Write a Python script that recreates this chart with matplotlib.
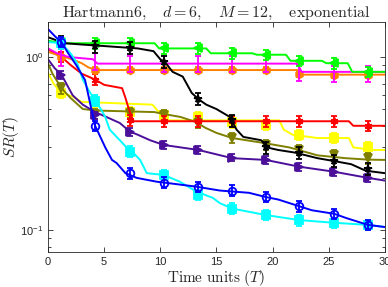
import numpy as np
import matplotlib
matplotlib.use("Agg")
import matplotlib.pyplot as plt
from matplotlib.ticker import LogLocator, NullFormatter

plt.rcParams['mathtext.fontset'] = 'cm'
plt.rcParams['font.family'] = ['Liberation Sans', 'DejaVu Sans']

# marker times
marker_t = [1.2, 4.2, 7.3, 10.3, 13.4, 16.4, 19.4, 22.4, 25.5, 28.5]

# ---- series: line (t, v), marker values, relative error ----
green_t = [0, 1.5, 9.5, 9.9, 14.1, 14.5, 18.2, 18.6, 21.2, 21.6, 24.4, 24.8, 26.7, 27.1, 30]
green_v = [1.24, 1.2, 1.2, 1.12, 1.12, 1.05, 1.05, 1.03, 1.03, 0.95, 0.95, 0.92, 0.92, 0.82, 0.82]
green_m = [1.22, 1.2, 1.2, 1.12, 1.12, 1.05, 1.03, 0.95, 0.92, 0.82]
green_e = [0.07] * 10

black_t = [0, 1.5, 3, 5.5, 8, 9.4, 10.0, 10.5, 11.1, 12, 12.8, 13.4, 14.1, 15, 16.2, 16.8,
           17.4, 19.0, 19.5, 20.5, 22, 24, 25.5, 27, 28.3, 30]
black_v = [1.3, 1.2, 1.18, 1.15, 1.12, 1.08, 0.97, 0.92, 0.82, 0.77, 0.62, 0.57, 0.53, 0.5,
           0.45, 0.38, 0.345, 0.33, 0.30, 0.29, 0.28, 0.26, 0.25, 0.24, 0.22, 0.213]
black_m = [1.22, 1.15, 1.13, 0.94, 0.57, 0.43, 0.30, 0.28, 0.25, 0.225]
black_e = [0.08] * 10

magenta_t = [0, 0.8, 1.8, 4.0, 4.4, 22.2, 22.6, 30]
magenta_v = [1.12, 1.05, 1.0, 0.97, 0.915, 0.915, 0.82, 0.82]
magenta_m = [1.0, 0.95, 0.915, 0.915, 0.915, 0.915, 0.915, 0.82, 0.8, 0.8]
magenta_e = [0.11] * 10

orange_t = [0, 0.8, 1.5, 2.3, 3.0, 3.6, 4.3, 22.2, 22.6, 30]
orange_v = [1.07, 1.03, 1.0, 0.96, 0.92, 0.87, 0.84, 0.84, 0.79, 0.79]
orange_m = [1.0, 0.84, 0.84, 0.84, 0.84, 0.84, 0.84, 0.80, 0.79, 0.79]
orange_e = [0.04] * 10

red_t = [0, 0.6, 1.2, 2, 3, 4.2, 5.0, 6.6, 6.9, 7.2, 7.6, 26.8, 27.2, 30]
red_v = [1.11, 1.05, 1.0, 0.9, 0.8, 0.74, 0.69, 0.66, 0.58, 0.5, 0.425, 0.425, 0.40, 0.40]
red_m = [1.0, 0.74, 0.43, 0.425, 0.425, 0.425, 0.425, 0.425, 0.425, 0.40]
red_e = [0.07] * 10

yellow_t = [0, 0.5, 1.2, 2.2, 3.0, 9.3, 10.0, 10.8, 20.6, 21.0, 21.8, 24, 26.8, 27.2, 29, 30]
yellow_v = [0.81, 0.7, 0.62, 0.59, 0.55, 0.53, 0.47, 0.43, 0.43, 0.38, 0.355, 0.34, 0.34,
            0.30, 0.29, 0.29]
yellow_m = [0.62, 0.55, 0.48, 0.46, 0.45, 0.42, 0.405, 0.355, 0.34, 0.30]
yellow_e = [0.07] * 10

olive_t = [0, 0.4, 1.2, 2.0, 3.1, 4.3, 9.5, 10.3, 11.8, 13.2, 14.0, 15.0, 16.4,
           19.0, 21.5, 24, 26.5, 28.5, 30]
olive_v = [0.92, 0.8, 0.66, 0.58, 0.5, 0.49, 0.48, 0.468, 0.45, 0.42, 0.39, 0.364,
           0.34, 0.32, 0.30, 0.27, 0.26, 0.255, 0.254]
olive_m = [0.66, 0.47, 0.475, 0.46, 0.415, 0.34, 0.31, 0.29, 0.27, 0.26]
olive_e = [0.07] * 10

purple_t = [0, 0.6, 1.2, 2.2, 3.1, 4.2, 5.2, 6.4, 7.3, 8.0, 9.1, 10.3, 13.4, 16.4,
            19.4, 22.4, 25.5, 28.5, 30]
purple_v = [0.97, 0.86, 0.79, 0.6, 0.53, 0.48, 0.45, 0.415, 0.37, 0.355, 0.33, 0.31,
            0.29, 0.26, 0.254, 0.232, 0.217, 0.2, 0.193]
purple_m = [0.79, 0.46, 0.37, 0.31, 0.29, 0.262, 0.254, 0.232, 0.217, 0.2]
purple_e = [0.05] * 10

cyan_t = [0, 1.2, 2.0, 2.6, 3.1, 3.7, 4.2, 4.7, 5.1, 5.5, 6.4, 7.0, 7.5, 8.2, 8.8,
          10.3, 11.75, 13.2, 14.7, 15.3, 16.4, 19.4, 22.4, 25.5, 28.5, 30]
cyan_v = [1.22, 1.2, 1.05, 0.92, 0.74, 0.63, 0.56, 0.5, 0.45, 0.38, 0.33, 0.30,
          0.284, 0.254, 0.213, 0.208, 0.19, 0.167, 0.153, 0.143, 0.133, 0.122, 0.114,
          0.11, 0.107, 0.104]
cyan_m = [1.2, 0.56, 0.284, 0.208, 0.160, 0.133, 0.122, 0.114, 0.11, 0.107]
cyan_e = [0.07] * 10

blue_t = [0, 0.6, 1.2, 1.8, 2.5, 3.3, 3.75, 4.2, 5.1, 5.7, 6.1, 6.9, 7.9, 9.7, 10.3,
          13.2, 15.3, 17.9, 19.4, 20.5, 22.4, 23.5, 25.5, 26.6, 28.5, 30]
blue_v = [1.45, 1.32, 1.22, 1.05, 0.9, 0.736, 0.54, 0.40, 0.30, 0.254, 0.244, 0.213,
          0.2, 0.19, 0.188, 0.178, 0.169, 0.164, 0.155, 0.15, 0.137, 0.13, 0.124,
          0.117, 0.107, 0.104]
blue_m = [1.22, 0.40, 0.213, 0.188, 0.178, 0.169, 0.155, 0.137, 0.124, 0.107]
blue_e = [0.07] * 10

series = [
    (yellow_t, yellow_v, yellow_m, yellow_e, '#ffff00', 's', True),
    (olive_t, olive_v, olive_m, olive_e, '#7f7f00', 'v', True),
    (purple_t, purple_v, purple_m, purple_e, '#4b0f9a', '>', True),
    (red_t, red_v, red_m, red_e, '#ff0000', (6, 2, 0), True),
    (orange_t, orange_v, orange_m, orange_e, '#ff8000', 'h', True),
    (magenta_t, magenta_v, magenta_m, magenta_e, '#ff00ff', 'none', True),
    (green_t, green_v, green_m, green_e, '#00ff00', '<', True),
    (black_t, black_v, black_m, black_e, '#000000', '*', True),
    (cyan_t, cyan_v, cyan_m, cyan_e, '#00ffff', 's', True),
    (blue_t, blue_v, blue_m, blue_e, '#0000ff', 'o', False),
]

fig = plt.figure(figsize=(3.88, 2.87), dpi=100)
ax = fig.add_axes([0.1237, 0.122, 0.868, 0.801])

for t, v, m, e, c, mk, filled in series:
    ax.plot(t, v, color=c, lw=1.4)
    yerr = [mi * ei for mi, ei in zip(m, e)]
    ax.errorbar(marker_t, m, yerr=yerr, fmt='none', ecolor=c, elinewidth=1.3,
                capsize=2.5, capthick=1.3)
    if mk != 'none':
        ax.plot(marker_t, m, ls='none', marker=mk, ms=5.5, mec=c, mew=1.3,
                mfc=c if filled else 'none')

ax.set_yscale('log')
ax.set_xlim(0, 30)
ax.set_ylim(0.0746, 1.59)
ax.set_xticks([0, 5, 10, 15, 20, 25, 30])
ax.yaxis.set_major_locator(LogLocator(base=10, numticks=10))
ax.yaxis.set_minor_locator(LogLocator(base=10, subs=np.arange(2, 10), numticks=10))
ax.yaxis.set_minor_formatter(NullFormatter())

for s in ax.spines.values():
    s.set_color('#262626')
    s.set_linewidth(0.6)
ax.tick_params(which='both', direction='in', top=True, right=True, colors='#262626',
               labelsize=8, width=0.6)
ax.tick_params(which='major', length=3.5)
ax.tick_params(which='minor', length=2)

ax.set_title(r'$\mathrm{Hartmann6,}\quad d=6,\quad M=12,\quad \mathrm{exponential}$',
             fontsize=11.5, color='#262626', pad=4)
ax.set_xlabel(r'$\mathrm{Time\ units\ }(T)$', fontsize=11, color='#262626', labelpad=1)
ax.set_ylabel(r'$SR(T)$', fontsize=11, color='#262626', labelpad=-1)

fig.savefig('out.png', dpi=100)
